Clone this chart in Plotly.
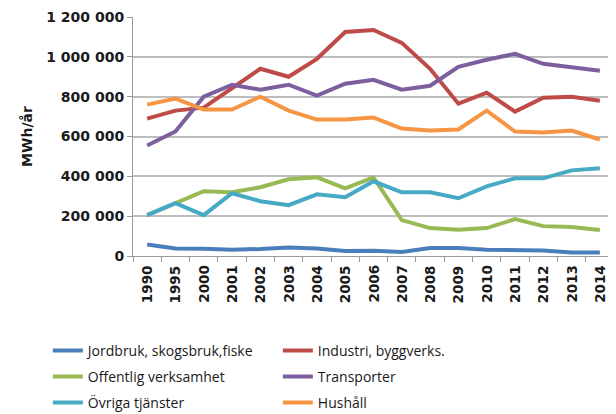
import plotly.graph_objects as go

years = ["1990", "1995", "2000", "2001", "2002", "2003", "2004", "2005", "2006",
         "2007", "2008", "2009", "2010", "2011", "2012", "2013", "2014"]

jordbruk = [58000, 38000, 36000, 32000, 35000, 43000, 38000, 25000, 26000,
            20000, 40000, 40000, 32000, 30000, 28000, 18000, 18000]
industri = [690000, 730000, 745000, 840000, 940000, 900000, 990000, 1125000, 1135000,
            1070000, 940000, 765000, 820000, 725000, 795000, 800000, 780000]
offentlig = [205000, 265000, 325000, 320000, 345000, 385000, 395000, 340000, 395000,
             180000, 140000, 132000, 140000, 185000, 150000, 145000, 130000]
transporter = [555000, 625000, 800000, 860000, 835000, 860000, 805000, 865000, 885000,
               835000, 855000, 950000, 985000, 1015000, 965000, 945000, 930000]
ovriga = [205000, 265000, 205000, 315000, 275000, 255000, 310000, 295000, 375000,
          320000, 320000, 290000, 350000, 390000, 390000, 430000, 440000]
hushall = [760000, 790000, 735000, 735000, 800000, 730000, 685000, 685000, 695000,
           640000, 630000, 635000, 730000, 625000, 620000, 630000, 585000]

y_ticks = [0, 200000, 400000, 600000, 800000, 1000000, 1200000]
y_labels = ["0", "200 000", "400 000", "600 000", "800 000", "1 000 000", "1 200 000"]

# (namn, värden, färg, legend-rad)
series = [
    ("Jordbruk, skogsbruk,fiske", jordbruk, "#4A7EBB", "legend"),
    ("Industri, byggverks.", industri, "#BE4B48", "legend"),
    ("Offentlig verksamhet", offentlig, "#98B954", "legend2"),
    ("Transporter", transporter, "#7D5FA0", "legend2"),
    ("Övriga tjänster", ovriga, "#46AAC5", "legend3"),
    ("Hushåll", hushall, "#F69544", "legend3"),
]

fig = go.Figure()
for name, vals, color, leg in series:
    fig.add_trace(go.Scatter(
        x=years, y=vals, name=name, mode="lines", legend=leg,
        line=dict(color=color, width=4),
    ))

tick_font = "DejaVu Sans"
legend_font = dict(size=14, family="Open Sans, Arial", color="#1a1a1a")


def row_legend(y):
    return dict(
        orientation="h", x=-0.177, xanchor="left", y=y, yanchor="middle",
        entrywidth=185, entrywidthmode="pixels", font=legend_font,
        bgcolor="rgba(0,0,0,0)",
    )


# årtal som roterad text under axeln (x = kategoriindex)
for i, yr in enumerate(years):
    fig.add_annotation(
        x=i, xref="x", y=0, yref="paper", yanchor="top", xanchor="center",
        yshift=-7, text=yr, textangle=-90, showarrow=False,
        font=dict(size=13.5, family=tick_font, weight="bold", color="#1a1a1a"),
    )

fig.update_layout(
    width=608, height=406,
    paper_bgcolor="white", plot_bgcolor="white",
    margin=dict(l=125, r=2, t=9, b=158, autoexpand=False),
    font=dict(family=tick_font, color="#1a1a1a"),
    xaxis=dict(
        type="category", range=[-0.5, len(years) - 0.5],
        tickson="boundaries", ticks="outside", ticklen=5,
        tickcolor="#9a9a9a", showline=True, linecolor="#9a9a9a", linewidth=1,
        showgrid=False, showticklabels=False, automargin=False,
    ),
    yaxis=dict(
        range=[0, 1200000], tickvals=y_ticks, ticktext=y_labels,
        ticks="outside", ticklen=5, tickcolor="#9a9a9a",
        showline=True, linecolor="#9a9a9a", linewidth=1,
        showgrid=True, gridcolor="#BDBDBD", gridwidth=1.5, zeroline=False,
        automargin=False,
        tickfont=dict(size=14, family=tick_font, weight="bold"),
        title=dict(text="MWh/år", standoff=10,
                   font=dict(size=14, family=tick_font, weight="bold")),
    ),
    legend=row_legend(-0.397),
    legend2=row_legend(-0.506),
    legend3=row_legend(-0.615),
)

fig.write_html("out.html")
